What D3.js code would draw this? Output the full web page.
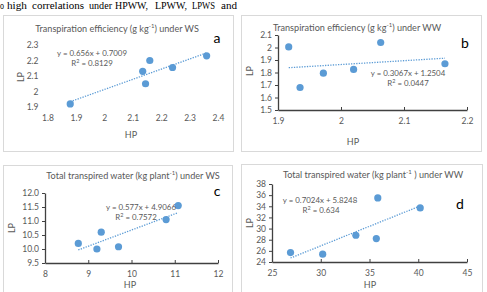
<!DOCTYPE html>
<html lang="en">
<head>
  <meta charset="UTF-8">
  <title>HP vs LP correlations</title>
  <script src="https://d3js.org/d3.v7.min.js"></script>
  <style>
    body { margin: 0; background: #fff; }
    svg { display: block; }
    .lbl { font-family: Lato, "Liberation Sans", sans-serif; fill: #595959; }
    .body-text { font-family: "Liberation Serif", "Times New Roman", serif; font-size: 11px; fill: #000; }
  </style>
</head>
<body>
  <svg width="487" height="292"></svg>

  <script>
    const svg = d3.select("svg");

    // data
    const hpA = [1.88, 2.135, 2.145, 2.16, 2.24, 2.36];
    const lpA = [1.92, 2.13, 2.05, 2.20, 2.155, 2.23];
    const fitA = [0.656, 0.7009];

    const hpB = [1.917, 1.935, 1.972, 2.02, 2.063, 2.165];
    const lpB = [2.005, 1.68, 1.795, 1.825, 2.04, 1.87];
    const fitB = [0.3067, 1.2504];

    const hpC = [8.77, 9.2, 9.3, 9.7, 10.8, 11.08];
    const lpC = [10.2, 10.0, 10.6, 10.08, 11.05, 11.55];
    const fitC = [0.577, 4.9066];

    const hpD = [26.9, 30.2, 33.6, 35.7, 35.85, 40.2];
    const lpD = [25.7, 25.4, 28.8, 28.2, 35.5, 33.7];
    const fitD = [0.7024, 5.8248];

    const ticksXA = [1.8, 1.9, 2, 2.1, 2.2, 2.3, 2.4];
    const ticksYA = [1.9, 2, 2.1, 2.2, 2.3];
    const ticksXB = [1.9, 2, 2.1, 2.2];
    const ticksYB = [1.5, 1.6, 1.7, 1.8, 1.9, 2, 2.1];
    const ticksXC = [8, 9, 10, 11, 12];
    const ticksYC = [9.5, 10, 10.5, 11, 11.5, 12];
    const ticksXD = [25, 30, 35, 40, 45];
    const ticksYD = [24, 26, 28, 30, 32, 34, 36, 38];

    const blue = "#5b9bd5";

    // justified line of body text at the top of the crop
    const words = ["o", "high", "correlations", "under", "HPWW,", "LPWW,", "LPWS", "and"];
    const wordX = [0, 7, 32, 89, 115, 155, 192, 221];
    const wordW = [4, 20, 52, 23, 33, 32, 23, 16];
    svg.selectAll(".body-text").data(words).join("text")
      .attr("class", "body-text")
      .attr("x", (d, i) => wordX[i]).attr("y", 9)
      .attr("textLength", (d, i) => wordW[i])
      .attr("lengthAdjust", "spacingAndGlyphs")
      .text(d => d);

    const panels = [
      { box: [3, 15, 230, 136], hp: hpA, lp: lpA, fit: fitA, tx: ticksXA, ty: ticksYA,
        xr: [47.5, 218], yr: [107, 45], axes: false, fmtY: d3.format("~g"), fmtX: d3.format("~g"),
        title: ["Transpiration efficiency (g kg", "-1", ") under WS"], tpos: [117, 32],
        letter: "a", lpos: [217, 43], eq: "y = 0.656x + 0.7009", r2: "0.8129",
        eqpos: [92, 56], r2pos: [92, 66], hppos: [131, 138], lppos: [21, 77] },
      { box: [241, 15, 240, 136], hp: hpB, lp: lpB, fit: fitB, tx: ticksXB, ty: ticksYB,
        xr: [278, 467], yr: [110, 35], axes: true, fmtY: d3.format("~g"), fmtX: d3.format("~g"),
        title: ["Transpiration efficiency (g kg", "-1", ") under WW"], tpos: [357, 31],
        letter: "b", lpos: [465, 48], eq: "y = 0.3067x + 1.2504", r2: "0.0447",
        eqpos: [408, 76], r2pos: [408, 86], hppos: [353, 145], lppos: [250, 71] },
      { box: [3, 165, 229, 140], hp: hpC, lp: lpC, fit: fitC, tx: ticksXC, ty: ticksYC,
        xr: [45, 218], yr: [263, 193], axes: true, fmtY: d3.format(".1f"), fmtX: d3.format("d"),
        title: ["Total transpired water (kg plant", "-1", ") under WS"], tpos: [133, 179],
        letter: "c", lpos: [217, 196], eq: "y = 0.577x + 4.9066", r2: "0.7572",
        eqpos: [141, 210], r2pos: [136, 220], hppos: [130, 288], lppos: [12, 228] },
      { box: [241, 164, 241, 140], hp: hpD, lp: lpD, fit: fitD, tx: ticksXD, ty: ticksYD,
        xr: [272, 467], yr: [262, 184], axes: true, fmtY: d3.format("d"), fmtX: d3.format("d"),
        title: ["Total transpired water (kg plant", "-1", " ) under WW"], tpos: [373, 178],
        letter: "d", lpos: [460, 209], eq: "y = 0.7024x + 5.8248", r2: "0.634",
        eqpos: [320, 203], r2pos: [321, 213], hppos: [370, 288], lppos: [250, 223] }
    ];

    panels.forEach(p => {
      const g = svg.append("g");

      g.append("rect")
        .attr("x", p.box[0] + 0.5).attr("y", p.box[1] + 0.5)
        .attr("width", p.box[2]).attr("height", p.box[3])
        .attr("fill", "#fff").attr("stroke", "#d9d9d9");

      const x = d3.scaleLinear().domain(d3.extent(p.tx)).range(p.xr);
      const y = d3.scaleLinear().domain(d3.extent(p.ty)).range(p.yr);

      const xAxis = d3.axisBottom(x).tickValues(p.tx).tickFormat(p.fmtX)
        .tickSizeOuter(0).tickSizeInner(p.axes ? -3 : 0).tickPadding(8);
      const yAxis = d3.axisLeft(y).tickValues(p.ty).tickFormat(p.fmtY)
        .tickSizeOuter(0).tickSizeInner(p.axes ? 3 : 0).tickPadding(p.axes ? 3 : 9);

      const gx = g.append("g").attr("transform", `translate(0,${p.yr[0]})`).call(xAxis);
      const gy = g.append("g").attr("transform", `translate(${p.xr[0]},0)`).call(yAxis);
      [gx, gy].forEach(a => {
        a.selectAll("text").attr("class", "lbl").style("font-size", "8.5px").attr("fill", null);
        a.selectAll("line").attr("stroke", "#404040");
        a.select(".domain").attr("stroke", "#404040").attr("stroke-width", 1.3);
        if (!p.axes) { a.select(".domain").remove(); a.selectAll("line").remove(); }
      });

      // trendline over the data range
      const [x0, x1] = d3.extent(p.hp);
      g.append("line")
        .attr("x1", x(x0)).attr("y1", y(p.fit[0] * x0 + p.fit[1]))
        .attr("x2", x(x1)).attr("y2", y(p.fit[0] * x1 + p.fit[1]))
        .attr("stroke", blue).attr("stroke-width", 1.3)
        .attr("stroke-dasharray", "1.3,1.3");

      g.selectAll("circle").data(p.hp).join("circle")
        .attr("cx", d => x(d))
        .attr("cy", (d, i) => y(p.lp[i]))
        .attr("r", 3.6)
        .attr("fill", blue);

      // title with superscript
      const t = g.append("text").attr("class", "lbl")
        .attr("x", p.tpos[0]).attr("y", p.tpos[1])
        .attr("text-anchor", "middle").style("font-size", "9.1px");
      t.append("tspan").text(p.title[0]);
      t.append("tspan").attr("dy", -4).style("font-size", "6px").text(p.title[1]);
      t.append("tspan").attr("dy", 4).text(p.title[2]);

      g.append("text")
        .attr("x", p.lpos[0]).attr("y", p.lpos[1])
        .attr("text-anchor", "middle")
        .style("font-family", "Lato, 'Liberation Sans', sans-serif")
        .style("font-size", "14px").attr("fill", "#000")
        .text(p.letter);

      g.append("text").attr("class", "lbl")
        .attr("x", p.eqpos[0]).attr("y", p.eqpos[1])
        .attr("text-anchor", "middle").style("font-size", "7.9px")
        .text(p.eq);
      const r = g.append("text").attr("class", "lbl")
        .attr("x", p.r2pos[0]).attr("y", p.r2pos[1])
        .attr("text-anchor", "middle").style("font-size", "7.9px");
      r.append("tspan").text("R");
      r.append("tspan").attr("dy", -3).style("font-size", "5.5px").text("2");
      r.append("tspan").attr("dy", 3).text(" = " + p.r2);

      g.append("text").attr("class", "lbl")
        .attr("x", p.hppos[0]).attr("y", p.hppos[1])
        .attr("text-anchor", "middle").style("font-size", "9px")
        .text("HP");
      g.append("text").attr("class", "lbl")
        .attr("transform", `translate(${p.lppos[0]},${p.lppos[1]}) rotate(-90)`)
        .attr("text-anchor", "middle").attr("dy", "0.35em").style("font-size", "9px")
        .text("LP");
    });
  </script>
</body>
</html>
